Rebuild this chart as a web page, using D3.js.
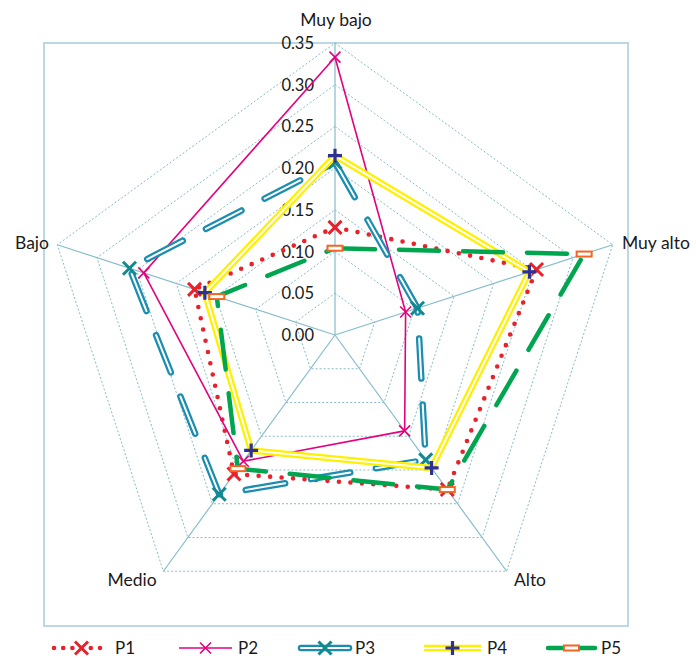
<!DOCTYPE html>
<html>
<head>
<meta charset="utf-8">
<script src="https://cdn.jsdelivr.net/npm/d3@7"></script>
<style>
  html, body { margin: 0; padding: 0; background: #fff; }
  svg { display: block; font-family: Lato, "Open Sans", sans-serif; }
</style>
</head>
<body>
<svg id="chart" width="696" height="660"></svg>
<script>
// Axes of the radar, clockwise from the top
const categories = ["Muy bajo", "Muy alto", "Alto", "Medio", "Bajo"];
const seriesNames = ["P1", "P2", "P3", "P4", "P5"];
const p1 = [0.129, 0.254, 0.229, 0.206, 0.177];
const p2 = [0.333, 0.089, 0.142, 0.187, 0.241];
const p3 = [0.207, 0.104, 0.185, 0.236, 0.259];
const p4 = [0.215, 0.245, 0.197, 0.171, 0.164];
const p5 = [0.104, 0.314, 0.229, 0.198, 0.149];
const tickValues = [0, 0.05, 0.10, 0.15, 0.20, 0.25, 0.30, 0.35];

const svg = d3.select("#chart");
const cx = 335, cy = 335, R = 292;
const r = d3.scaleLinear().domain([0, 0.35]).range([0, R]);
const angle = d3.scaleLinear().domain([0, categories.length]).range([0, 2 * Math.PI]);
const pt = (v, i) => [cx + r(v) * Math.sin(angle(i)), cy - r(v) * Math.cos(angle(i))];

// Plot frame
svg.append("rect")
  .attr("x", 44).attr("y", 43).attr("width", 584).attr("height", 583)
  .attr("fill", "none").attr("stroke", "#bcd8e0").attr("stroke-width", 2);

const gridColor = "#86bccb";
const ring = d3.line().curve(d3.curveLinearClosed);

// Dotted pentagon rings
svg.append("g").selectAll("path")
  .data(tickValues.slice(1))
  .join("path")
  .attr("d", t => ring(categories.map((c, i) => pt(t, i))))
  .attr("fill", "none").attr("stroke", gridColor)
  .attr("stroke-width", 1).attr("stroke-dasharray", "2 2");

// Spokes
svg.append("g").selectAll("line")
  .data(categories)
  .join("line")
  .attr("x1", cx).attr("y1", cy)
  .attr("x2", (c, i) => pt(0.35, i)[0])
  .attr("y2", (c, i) => pt(0.35, i)[1])
  .attr("stroke", gridColor).attr("stroke-width", 1.2);

// Tick labels along the top spoke
svg.append("g").selectAll("text")
  .data(tickValues)
  .join("text")
  .attr("x", 314)
  .attr("y", t => cy - r(t))
  .attr("dy", "0.36em")
  .attr("text-anchor", "end")
  .attr("font-size", 16.5)
  .attr("fill", "#1a1a1a")
  .text(d3.format(".2f"));

// Category labels
const labelPos = [
  { x: 336, y: 26, anchor: "middle" },
  { x: 622, y: 249, anchor: "start" },
  { x: 530, y: 586, anchor: "middle" },
  { x: 132, y: 586, anchor: "middle" },
  { x: 49, y: 249, anchor: "end" }
];
svg.append("g").selectAll("text")
  .data(categories)
  .join("text")
  .attr("x", (c, i) => labelPos[i].x)
  .attr("y", (c, i) => labelPos[i].y)
  .attr("text-anchor", (c, i) => labelPos[i].anchor)
  .attr("font-size", 17.5)
  .attr("fill", "#1a1a1a")
  .text(c => c);

// Marker shapes
const xMark = s => `M${-s},${-s}L${s},${s}M${-s},${s}L${s},${-s}`;
const plusMark = s => `M${-s},0L${s},0M0,${-s}L0,${s}`;

const styles = [
  { // P1: red round dots, bold red X
    strokes: [{ color: "#e8212b", width: 4.6, dash: "0 11.5", cap: "round" }],
    marker: g => g.append("path").attr("d", xMark(6.5)).attr("stroke", "#e8212b").attr("stroke-width", 3).attr("fill", "none")
  },
  { // P2: thin magenta line with thin X
    strokes: [{ color: "#e5007d", width: 1.6, dash: null, cap: "butt" }],
    marker: g => g.append("path").attr("d", xMark(5.5)).attr("stroke", "#e5007d").attr("stroke-width", 1.6).attr("fill", "none")
  },
  { // P3: hollow teal long dashes with teal X
    strokes: [
      { color: "#1b8db0", width: 6.5, dash: "40 26", cap: "round" },
      { color: "#ffffff", width: 2, dash: "40 26", cap: "round" }
    ],
    marker: g => g.append("path").attr("d", xMark(6.5)).attr("stroke", "#11898f").attr("stroke-width", 3).attr("fill", "none")
  },
  { // P4: hollow yellow line with navy plus
    strokes: [
      { color: "#fff000", width: 6.5, dash: null, cap: "butt" },
      { color: "#ffffff", width: 2, dash: null, cap: "butt" }
    ],
    marker: g => g.append("path").attr("d", plusMark(7)).attr("stroke", "#2e3192").attr("stroke-width", 3.2).attr("fill", "none")
  },
  { // P5: green long dashes with orange dash marker
    strokes: [{ color: "#00a550", width: 4.5, dash: "40 24", cap: "round" }],
    marker: g => g.append("rect").attr("x", -7.5).attr("y", -2.5).attr("width", 15).attr("height", 5)
      .attr("fill", "#ffffff").attr("stroke", "#f26522").attr("stroke-width", 2)
  }
];

const series = [p1, p2, p3, p4, p5];
const lineGen = d3.line().curve(d3.curveLinearClosed);

series.forEach((vals, k) => {
  const g = svg.append("g").attr("class", "series-" + seriesNames[k]);
  const d = lineGen(vals.map((v, i) => pt(v, i)));
  styles[k].strokes.forEach(s => {
    g.append("path").attr("d", d).attr("fill", "none")
      .attr("stroke", s.color).attr("stroke-width", s.width)
      .attr("stroke-linecap", s.cap).attr("stroke-linejoin", "round")
      .attr("stroke-dasharray", s.dash);
  });
  vals.forEach((v, i) => {
    const [x, y] = pt(v, i);
    styles[k].marker(g.append("g").attr("transform", `translate(${x},${y})`));
  });
});

// Legend: short solid samples (P1 stays dotted)
const legendX = [54, 179, 301, 424, 548];
const legendLen = [55, 53, 48, 57, 47];
const legendY = 648;
seriesNames.forEach((name, k) => {
  const g = svg.append("g").attr("transform", `translate(${legendX[k]},${legendY})`);
  const L = legendLen[k];
  styles[k].strokes.forEach(s => {
    g.append("path").attr("d", `M0,0L${L},0`).attr("fill", "none")
      .attr("stroke", s.color).attr("stroke-width", s.width)
      .attr("stroke-linecap", s.cap)
      .attr("stroke-dasharray", k === 0 ? "0 9.2" : null);
  });
  styles[k].marker(g.append("g").attr("transform", `translate(${L / 2},0)`));
  g.append("text")
    .attr("x", L + 6).attr("y", 0).attr("dy", "0.36em")
    .attr("font-size", 17).attr("fill", "#1a1a1a")
    .text(name);
});
</script>
</body>
</html>
